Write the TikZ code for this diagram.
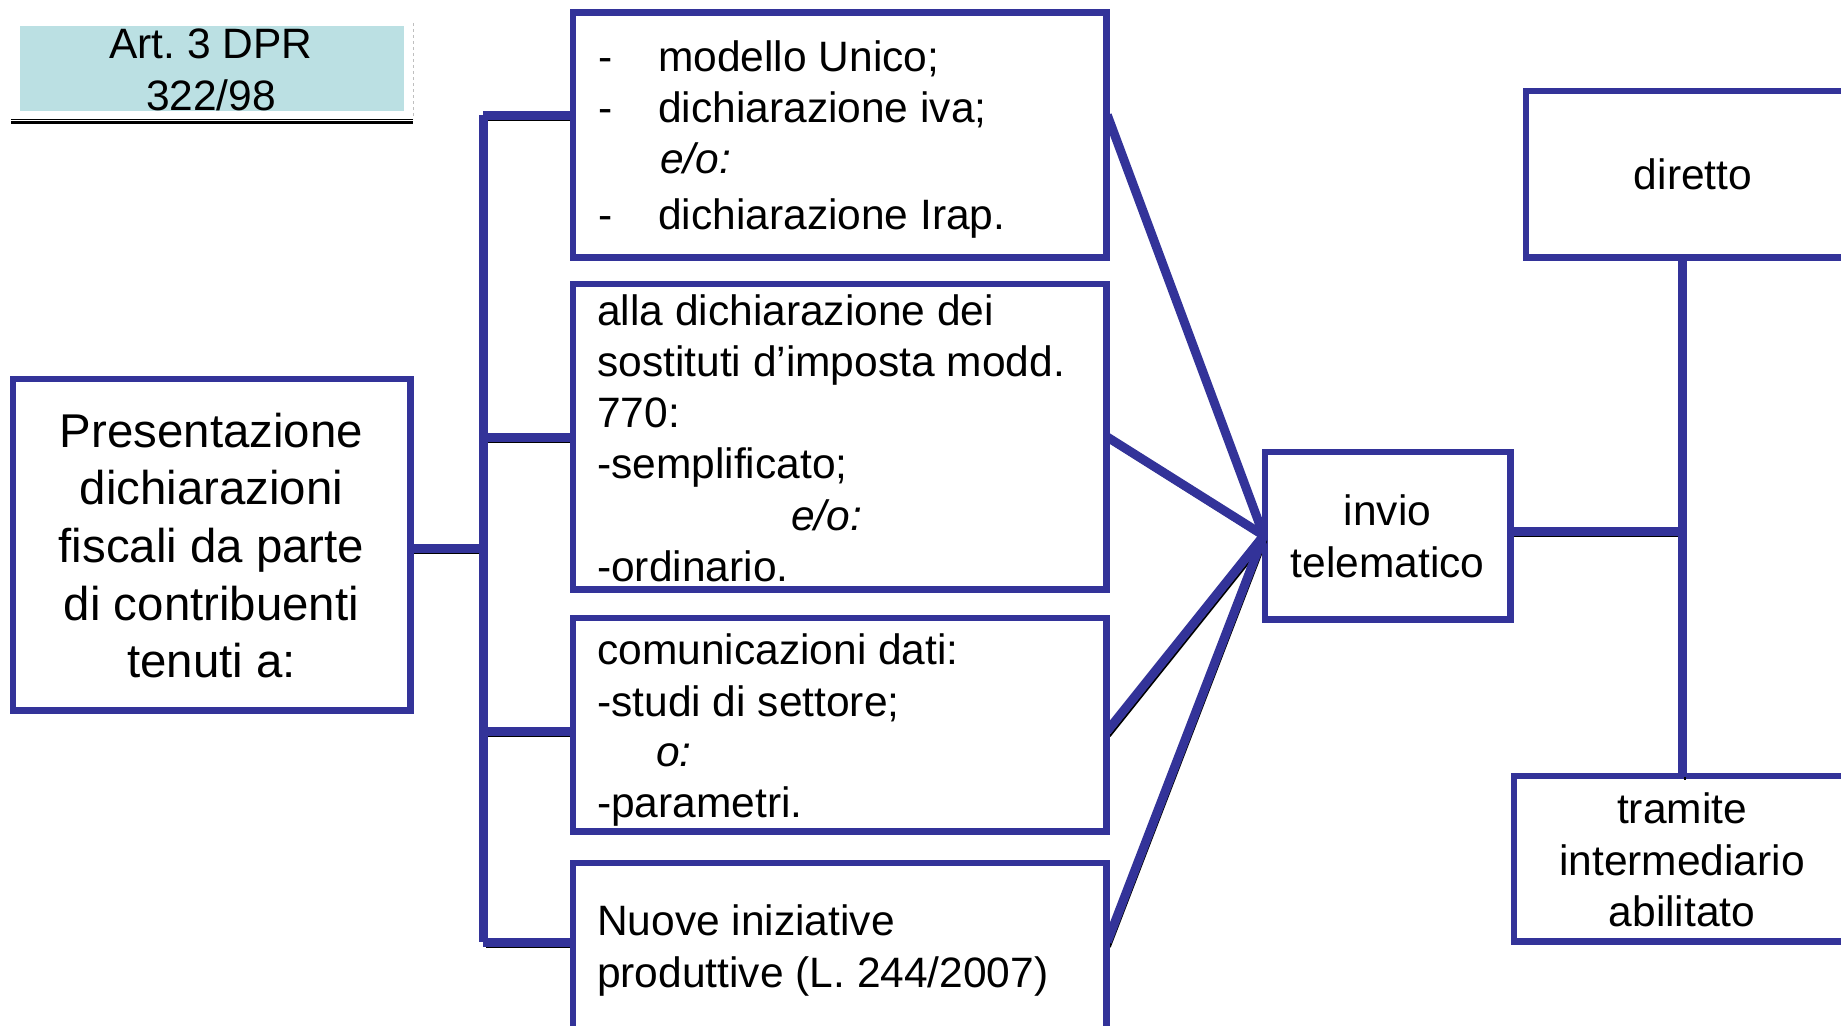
\documentclass[tikz,border=0pt]{standalone}
\usepackage{fontspec}
\setmainfont{Liberation Sans}
\definecolor{bl}{HTML}{333399}
\definecolor{tq}{HTML}{BBE0E3}
\frenchspacing
\begin{document}
\begin{tikzpicture}[x=1pt,y=-1pt,
  bx/.style={draw=bl,line width=4.5pt,fill=white,inner sep=0pt},
  tw/.style={inner sep=0pt,anchor=base west,font=\fontsize{42.5}{50}\selectfont},
  tc/.style={inner sep=0pt,anchor=base,font=\fontsize{42.5}{50}\selectfont},
  tl/.style={inner sep=0pt,anchor=base,font=\fontsize{47.4}{56}\selectfont},
  conn/.style={draw=bl,line width=9pt},
  shad/.style={draw=black,line width=2pt}]
\useasboundingbox (0,0) rectangle (1841,1025);

% Art box
\fill[tq] (20,26) rectangle (404,111);
\node[tc] (art1) at (211,59) {Art. 3 DPR};
\node[tc] (art2) at (211,110) {322/98};
\draw[black,line width=1pt] (11,119) -- (413,119);
\draw[black,line width=2.2pt] (11,122.5) -- (413,122.5);
\draw[gray!50,line width=0.6pt,dashed] (413,23) -- (413,119);

% boxes
\node[bx,minimum width=395,minimum height=329] (L) at (211.5,544.5) {};
\node[bx,minimum width=531,minimum height=242] (b1) at (839.5,135) {};
\node[bx,minimum width=531,minimum height=303] (b2) at (839.5,436.5) {};
\node[bx,minimum width=531,minimum height=211] (b3) at (839.5,724.5) {};
\node[bx,minimum width=531,minimum height=180] (b4) at (839.5,954) {};
\node[bx,minimum width=243,minimum height=165] (inv) at (1387.5,535.5) {};
\node[bx,minimum width=343,minimum height=164] (dir) at (1698.5,174) {};
\node[bx,minimum width=355,minimum height=163] (tra) at (1692.5,858.5) {};

% junction coordinates
\coordinate (j1) at (483,115);
\coordinate (j2) at (483,437);
\coordinate (j3) at (483,731);
\coordinate (j4) at (483,942);
\coordinate (jL) at (483,548);
\coordinate (h) at (1682,531);

% shadows
\begin{scope}[transform canvas={shift={(2.5,5.2)}}]
  \draw[shad] (j1) -- (j4);
  \draw[shad] (L.east |- jL) -- (jL);
  \foreach \j in {j1,j2,j3,j4} \draw[shad] (\j) -- (\j -| b1.west);
  \foreach \j/\b in {j1/b1,j2/b2,j3/b3,j4/b4} \draw[shad] (\j -| \b.east) -- (inv.west);
  \draw[shad] (inv.east |- h) -- (h);
  \draw[shad] (dir.south -| h) -- (tra.north -| h);
\end{scope}

% connectors
\draw[conn] (j1) -- (j4);
\draw[conn] (L.east |- jL) -- (jL);
\foreach \j in {j1,j2,j3,j4} \draw[conn] (\j) -- (\j -| b1.west);
\foreach \j/\b in {j1/b1,j2/b2,j3/b3,j4/b4} \draw[conn] (\j -| \b.east) -- (inv.west);
\draw[conn] (inv.east |- h) -- (h);
\draw[conn] (dir.south -| h) -- (tra.north -| h);

% redraw box borders over connector ends
\foreach \b in {L,b1,b2,b3,b4,inv,dir,tra} \draw[bl,line width=4.5pt] (\b.north west) rectangle (\b.south east);

% left box text
\node[tl] (l1) at (211.5,447) {Presentazione};
\node[tl] (l2) at (211.5,504) {dichiarazioni};
\node[tl] (l3) at (211.5,562) {fiscali da parte};
\node[tl] (l4) at (211.5,620) {di contribuenti};
\node[tl] (l5) at (211.5,677) {tenuti a:};

% box 1 text
\node[tw] (d1) at (598,71) {-};
\node[tw] (a1) at (658,71) {modello Unico;};
\node[tw] (d2) at (598,122) {-};
\node[tw] (a2) at (658,122) {dichiarazione iva;};
\node[tw] (a3) at (660,173) {\itshape e/o:};
\node[tw] (d4) at (598,229) {-};
\node[tw] (a4) at (658,229) {dichiarazione Irap.};

% box 2 text
\node[tw] (c1) at (597,325) {alla dichiarazione dei};
\node[tw] (c2) at (597,376) {sostituti d’imposta modd.};
\node[tw] (c3) at (597,427) {770:};
\node[tw] (c4) at (597,478) {-semplificato;};
\node[tw] (c5) at (791,530) {\itshape e/o:};
\node[tw] (c6) at (597,581) {-ordinario.};

% box 3 text
\node[tw] (e1) at (597,664) {comunicazioni dati:};
\node[tw] (e2) at (597,716) {-studi di settore;};
\node[tw] (e3) at (656,766) {\itshape o:};
\node[tw] (e4) at (597,817) {-parametri.};

% box 4 text
\node[tw] (f1) at (597,935) {Nuove iniziative};
\node[tw] (f2) at (597,987) {produttive (L. 244/2007)};

% invio
\node[tc] (i1) at (1387.5,525) {invio};
\node[tc] (i2) at (1387.5,577) {telematico};

% diretto
\node[tc] (g1) at (1693,189) {diretto};

% tramite
\node[tc] (k1) at (1682,823) {tramite};
\node[tc] (k2) at (1682,875) {intermediario};
\node[tc] (k3) at (1682,926) {abilitato};
\end{tikzpicture}
\end{document}
